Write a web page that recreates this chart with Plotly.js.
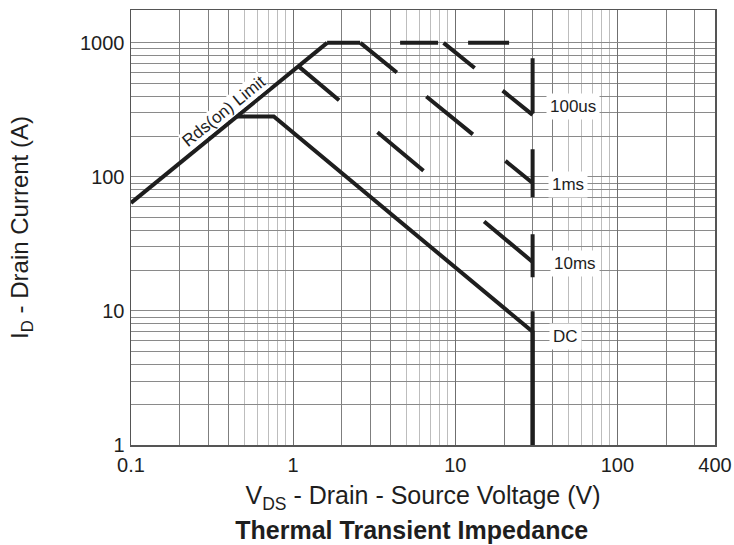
<!DOCTYPE html>
<html>
<head>
<meta charset="utf-8">
<script src="https://cdn.plot.ly/plotly-3.0.1.min.js"></script>
<style>
  html, body { margin: 0; padding: 0; background: #ffffff; }
  #chart { width: 734px; height: 545px; }
</style>
</head>
<body>
<div id="chart"></div>
<script>
// ---- Data (V in volts, I in amperes) ----
const xTickVals = [0.1, 1, 10, 100, 400];
const xTickText = ['0.1', '1', '10', '100', '400'];
const yTickVals = [1, 10, 100, 1000];
const yTickText = ['1', '10', '100', '1000'];

// Rds(on) limit line
const rdsV = [0.1, 1.62];
const rdsI = [64, 1000];

// DC curve
const dcV = [0.45, 0.76, 30, 30];
const dcI = [282, 282, 7.0, 1];

// Top current limit and BVDSS drop
const limV = [1.62, 30, 30];
const limI = [1000, 1000, 1];

// 100us pulse
const us100V = [8.47, 30];
const us100I = [1000, 290];

// 1ms pulse
const ms1V = [2.6, 30];
const ms1I = [1000, 90];

// 10ms pulse
const ms10V = [1.09, 30];
const ms10I = [662, 23.2];

// Curve labels
const labelText = ['100us', '1ms', '10ms', 'DC'];
const labelV = [53, 49.7, 54.9, 47.6];
const labelI = [333, 87.2, 22.7, 6.43];

const rdsLabel = 'Rds(on) Limit';
const rdsLabelV = 0.372;
const rdsLabelI = 310;

// ---- Styles ----
const FONT = 'Arial, "Liberation Sans", Helvetica, sans-serif';
const INK = '#1e1e1e';
const LW = 4;

function line(x, y, dash) {
  return {
    x: x, y: y, type: 'scatter', mode: 'lines',
    line: { color: INK, width: LW, dash: dash || 'solid' },
    hoverinfo: 'skip', showlegend: false
  };
}

const traces = [
  line(rdsV, rdsI),
  line(dcV, dcI),
  line(limV, limI, '33px,40px,38px,30px,41px,39px,55px,36px,48px,37px,43px,34px,400px'),
  line(us100V, us100I, '40px,36px,200px'),
  line(ms1V, ms1I, '47px,38px,60px,42px,200px'),
  line(ms10V, ms10I, '52px,50px,60px,79px,200px'),
  // invisible helper so the overlay axis (darker 2/3/4 grid lines) is drawn
  { x: [1], y: [1], xaxis: 'x2', type: 'scatter', mode: 'markers',
    marker: { opacity: 0, size: 1 }, hoverinfo: 'skip', showlegend: false }
];

const annotations = labelText.map((t, i) => ({
  x: Math.log10(labelV[i]), y: Math.log10(labelI[i]), xref: 'x', yref: 'y',
  text: t, showarrow: false, xanchor: 'center', yanchor: 'middle',
  font: { family: FONT, size: 17, color: INK },
  bgcolor: '#ffffff', borderpad: 3
}));
annotations.push({
  x: Math.log10(rdsLabelV), y: Math.log10(rdsLabelI), xref: 'x', yref: 'y',
  text: rdsLabel, showarrow: false, textangle: -39,
  xanchor: 'center', yanchor: 'middle',
  font: { family: FONT, size: 17, color: INK },
  bgcolor: '#ffffff', borderpad: 0
});

const xRange = [Math.log10(0.1), Math.log10(400)];
const yRange = [0, 3.245];

const layout = {
  width: 734, height: 545,
  margin: { l: 131, r: 19, t: 10, b: 100 },
  paper_bgcolor: '#ffffff', plot_bgcolor: '#ffffff',
  font: { family: FONT, color: INK },
  title: {
    text: '<b>Thermal Transient Impedance</b>',
    font: { family: FONT, size: 25, color: INK },
    xref: 'container', yref: 'container', x: 0.561, y: 0.027,
    xanchor: 'center', yanchor: 'middle'
  },
  xaxis: {
    type: 'log', range: xRange,
    tickmode: 'array', tickvals: xTickVals, ticktext: xTickText,
    ticks: '', ticklabelstandoff: 1,
    tickfont: { family: FONT, size: 20, color: INK },
    showgrid: true, gridcolor: '#6f6f6f', gridwidth: 1,
    minor: { showgrid: true, dtick: 'D1', gridcolor: '#bdbdbd', gridwidth: 1, ticks: '' },
    showline: true, mirror: true, linecolor: '#555555', linewidth: 1.5,
    zeroline: false,
    title: { text: 'V<sub>DS</sub> - Drain - Source Voltage (V)', standoff: 12,
             font: { family: FONT, size: 25, color: INK } }
  },
  xaxis2: {
    type: 'log', range: xRange, overlaying: 'x', side: 'bottom',
    tickmode: 'array', tickvals: [0.2, 0.3, 0.4, 2, 3, 4, 20, 30, 40, 200, 300],
    showticklabels: false, ticks: '',
    showgrid: true, gridcolor: '#7f7f7f', gridwidth: 1,
    showline: false, zeroline: false
  },
  yaxis: {
    type: 'log', range: yRange,
    tickmode: 'array', tickvals: yTickVals, ticktext: yTickText,
    ticks: '', ticklabelstandoff: 1,
    tickfont: { family: FONT, size: 20, color: INK },
    showgrid: true, gridcolor: '#8a8a8a', gridwidth: 1,
    minor: { showgrid: true, dtick: 'D1', gridcolor: '#8a8a8a', gridwidth: 1, ticks: '' },
    showline: true, mirror: true, linecolor: '#555555', linewidth: 1.5,
    zeroline: false,
    title: { text: 'I<sub>D</sub> - Drain Current (A)', standoff: 44,
             font: { family: FONT, size: 24, color: INK } }
  },
  annotations: annotations
};

Plotly.newPlot('chart', traces, layout, { staticPlot: true, displayModeBar: false });
</script>
</body>
</html>
